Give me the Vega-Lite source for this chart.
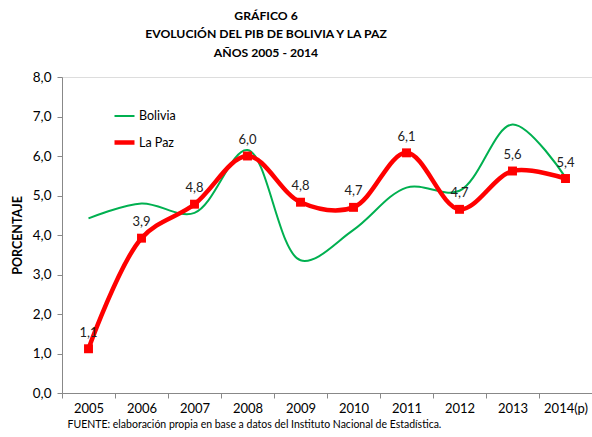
{
  "$schema": "https://vega.github.io/schema/vega-lite/v6.json",
  "width": 530,
  "height": 316,
  "autosize": {"type": "none"},
  "padding": {"left": 62, "top": 77, "right": 0, "bottom": 44},
  "background": "white",
  "title": {
    "text": ["GRÁFICO 6", "EVOLUCIÓN DEL PIB DE BOLIVIA  Y LA PAZ", "AÑOS 2005 - 2014"],
    "font": "Lato",
    "fontSize": 12.2,
    "fontWeight": "bold",
    "lineHeight": 18.5,
    "anchor": "middle",
    "dx": -61,
    "offset": 11,
    "color": "black"
  },
  "data": {
    "values": [
      {"year": "2005", "series": "Bolivia", "value": 4.42, "label": ""},
      {"year": "2006", "series": "Bolivia", "value": 4.80, "label": ""},
      {"year": "2007", "series": "Bolivia", "value": 4.56, "label": ""},
      {"year": "2008", "series": "Bolivia", "value": 6.15, "label": ""},
      {"year": "2009", "series": "Bolivia", "value": 3.36, "label": ""},
      {"year": "2010", "series": "Bolivia", "value": 4.13, "label": ""},
      {"year": "2011", "series": "Bolivia", "value": 5.20, "label": ""},
      {"year": "2012", "series": "Bolivia", "value": 5.12, "label": ""},
      {"year": "2013", "series": "Bolivia", "value": 6.80, "label": ""},
      {"year": "2014(p)", "series": "Bolivia", "value": 5.46, "label": ""},
      {"year": "2005", "series": "La Paz", "value": 1.12, "label": "1,1"},
      {"year": "2006", "series": "La Paz", "value": 3.92, "label": "3,9"},
      {"year": "2007", "series": "La Paz", "value": 4.78, "label": "4,8"},
      {"year": "2008", "series": "La Paz", "value": 6.00, "label": "6,0"},
      {"year": "2009", "series": "La Paz", "value": 4.83, "label": "4,8"},
      {"year": "2010", "series": "La Paz", "value": 4.70, "label": "4,7"},
      {"year": "2011", "series": "La Paz", "value": 6.08, "label": "6,1"},
      {"year": "2012", "series": "La Paz", "value": 4.65, "label": "4,7"},
      {"year": "2013", "series": "La Paz", "value": 5.62, "label": "5,6"},
      {"year": "2014(p)", "series": "La Paz", "value": 5.43, "label": "5,4"}
    ]
  },
  "encoding": {
    "x": {
      "field": "year",
      "type": "ordinal",
      "scale": {"type": "band", "paddingInner": 0, "paddingOuter": 0},
      "axis": {
        "title": "FUENTE: elaboración propia en base a datos del Instituto Nacional de Estadística.",
        "titleAnchor": "start",
        "titleAlign": "left",
        "titleX": 5,
        "titleFont": "Lato",
        "titleFontSize": 10.5,
        "titleFontWeight": "normal",
        "titleColor": "black",
        "titlePadding": 4,
        "labelAngle": 0,
        "labelFont": "Lato",
        "labelFontSize": 13,
        "labelColor": "black",
        "labelPadding": 4,
        "tickBand": "extent",
        "domainColor": "#888888",
        "tickColor": "#888888",
        "tickSize": 5,
        "grid": false
      }
    },
    "y": {
      "field": "value",
      "type": "quantitative",
      "scale": {"domain": [0, 8]},
      "axis": {
        "values": [0, 1, 2, 3, 4, 5, 6, 7, 8],
        "labelExpr": "replace(format(datum.value,'.1f'),'.',',')",
        "title": "PORCENTAJE",
        "titleFont": "Lato",
        "titleFontSize": 12.5,
        "titleFontWeight": "bold",
        "titleColor": "black",
        "titlePadding": 8,
        "labelFont": "Lato",
        "labelFontSize": 13.5,
        "labelColor": "black",
        "labelPadding": 6,
        "domainColor": "#888888",
        "tickColor": "#888888",
        "tickSize": 5,
        "grid": false
      }
    }
  },
  "layer": [
    {
      "mark": {"type": "line", "interpolate": "catmull-rom"},
      "encoding": {
        "color": {
          "field": "series",
          "type": "nominal",
          "scale": {"domain": ["Bolivia", "La Paz"], "range": ["#00B050", "#FF0000"]},
          "legend": {
            "orient": "none",
            "legendX": 50,
            "legendY": 28,
            "title": null,
            "symbolType": "stroke",
            "symbolSize": 400,
            "symbolStrokeWidth": 2.5,
            "labelFont": "Lato",
            "labelFontSize": 12.5,
            "labelColor": "black",
            "labelOffset": 2,
            "rowPadding": 7
          }
        },
        "strokeWidth": {
          "field": "series",
          "type": "nominal",
          "scale": {"domain": ["Bolivia", "La Paz"], "range": [2, 4.5]},
          "legend": null
        }
      }
    },
    {
      "transform": [{"filter": "datum.series === 'La Paz'"}],
      "mark": {"type": "square", "size": 80, "color": "#FF0000", "opacity": 1, "filled": true}
    },
    {
      "transform": [{"filter": "datum.series === 'La Paz'"}],
      "mark": {"type": "text", "dy": -16, "font": "Lato", "fontSize": 13, "color": "#222222"},
      "encoding": {"text": {"field": "label"}}
    }
  ]
}
